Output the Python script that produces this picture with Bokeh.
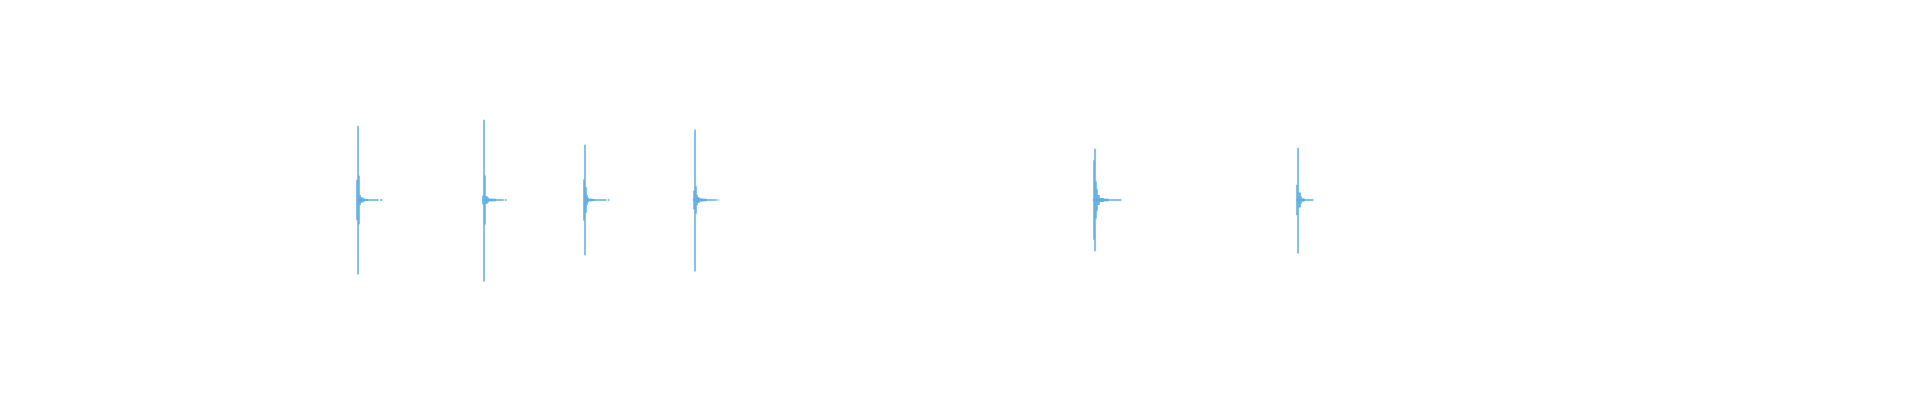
import numpy as np
from bokeh.plotting import figure
from bokeh.models import Range1d
from bokeh.embed import file_html
from bokeh.resources import INLINE

# Onset time (s) of each transient's main peak
burst_times = [3.495, 4.755, 5.765, 6.865, 10.865, 12.895]

# Envelope per 10 ms column, starting one column before the main peak
burst_pos = [
    [0.106, 0.388, 0.127, 0.028, 0.014, 0.014, 0.009, 0.009, 0.005, 0.005, 0.005],
    [0.023, 0.419, 0.128, 0.020, 0.020, 0.013, 0.007, 0.007, 0.007, 0.007, 0.007, 0.006, 0.006],
    [0.107, 0.289, 0.066, 0.026, 0.013, 0.007, 0.007, 0.006, 0.006, 0.005, 0.005],
    [0.050, 0.367, 0.072, 0.027, 0.015, 0.015, 0.008, 0.008, 0.008, 0.006, 0.006, 0.006, 0.006],
    [0.208, 0.268, 0.096, 0.056, 0.026, 0.026, 0.010, 0.010, 0.010, 0.010, 0.007, 0.007, 0.007, 0.007, 0.007],
    [0.080, 0.273, 0.039, 0.039, 0.019, 0.008, 0.008, 0.008],
]
burst_neg = [
    [0.106, 0.389, 0.127, 0.028, 0.014, 0.014, 0.009, 0.009, 0.005, 0.005, 0.005],
    [0.023, 0.425, 0.128, 0.020, 0.020, 0.013, 0.007, 0.007, 0.007, 0.007, 0.007, 0.006, 0.006],
    [0.107, 0.289, 0.066, 0.026, 0.013, 0.007, 0.007, 0.006, 0.006, 0.005, 0.005],
    [0.050, 0.373, 0.072, 0.027, 0.015, 0.015, 0.008, 0.008, 0.008, 0.006, 0.006, 0.006, 0.006],
    [0.208, 0.268, 0.096, 0.056, 0.026, 0.026, 0.010, 0.010, 0.010, 0.010, 0.007, 0.007, 0.007, 0.007, 0.007],
    [0.080, 0.279, 0.039, 0.039, 0.019, 0.008, 0.008, 0.008],
]

# Decay tail (near-zero signal), pieces as offsets (s) from the main peak
tail_pieces = [
    [(-0.013, 0.207), (0.220, 0.244)],
    [(-0.013, 0.197), (0.207, 0.227)],
    [(-0.013, 0.214), (0.227, 0.244)],
    [(-0.023, 0.217), (0.227, 0.237)],
    [(-0.023, 0.264)],
    [(-0.013, 0.154)],
]

COLOR = "#5DADE2"
STEP = 0.01

p = figure(width=1904, height=383, x_range=Range1d(-0.08, 18.96),
           y_range=Range1d(-0.9582, 1.0418),
           toolbar_location=None, output_backend="svg",
           min_border=0, min_border_left=0, min_border_right=0,
           min_border_top=0, min_border_bottom=0)
p.axis.visible = False
p.grid.visible = False
p.outline_line_color = None
p.background_fill_color = "white"
p.border_fill_color = "white"

for t0, pos, neg, pieces in zip(burst_times, burst_pos, burst_neg, tail_pieces):
    xs_t, ys_t = [], []
    for a, b in pieces:
        xs_t += [t0 + a, t0 + b, np.nan]
        ys_t += [0, 0, np.nan]
    p.line(xs_t, ys_t, line_color=COLOR, line_width=1.5)
    xs = [t0 + (i - 1) * STEP for i in range(len(pos))]
    p.segment(x0=xs, y0=[-v for v in neg], x1=xs, y1=pos,
              line_color=COLOR, line_width=1.5)

open("out.html", "w").write(file_html(p, INLINE))
